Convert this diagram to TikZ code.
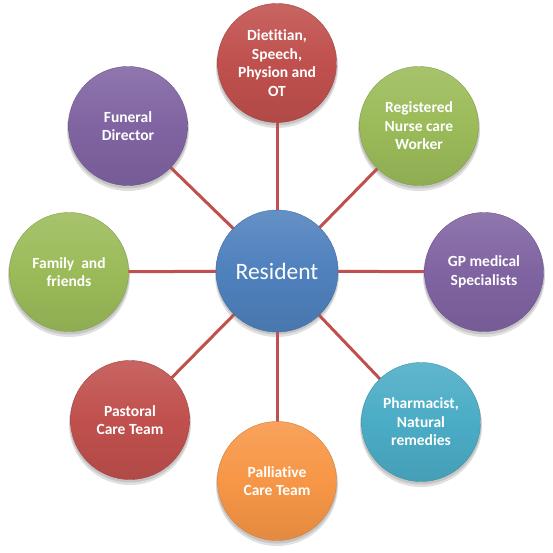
\documentclass[tikz,border=0pt]{standalone}
\usepackage{fontspec}
\setmainfont{Carlito}[Ligatures=NoCommon]
\definecolor{cred}{HTML}{C0504D}
\definecolor{cgreen}{HTML}{9BBB59}
\definecolor{cpurple}{HTML}{8064A2}
\definecolor{cteal}{HTML}{4BACC6}
\definecolor{corange}{HTML}{F79646}
\definecolor{cblue}{HTML}{4F81BD}
\tikzset{
  bubble/.style={circle, minimum size=119pt, inner sep=0pt, text=white,
    font=\bfseries\fontsize{15.5}{18.5}\selectfont, align=center,
    draw=#1!85!black, line width=0.4pt,
    top color=#1!88!white, bottom color=#1!92!black, middle color=#1},
  hub/.style={circle, minimum size=122pt, inner sep=0pt, text=white,
    font=\fontsize{23.5}{28}\selectfont, align=center,
    draw=#1!85!black, line width=0.4pt,
    top color=#1!88!white, bottom color=#1!92!black, middle color=#1},
  spoke/.style={draw=cred, line width=3pt},
  shadowdisc/.style={fill=black, opacity=0.12}
}
\begin{document}
\begin{tikzpicture}[x=1pt,y=-1pt]
\useasboundingbox (0,0) rectangle (553,552);
% shadows
\foreach \x/\y/\r in {277/63/60,419/126/60,484/272/60,421/422/60,277/481/60,130/420/60,69/272/60,128/126/60,277/271/61}{
  \fill[shadowdisc] (\x,\y+4) circle (\r+1);
  \fill[shadowdisc] (\x,\y+2) circle (\r+0.5);
}
\coordinate (c0) at (277,271);
\coordinate (c1) at (277,63);
\coordinate (c2) at (419,126);
\coordinate (c3) at (484,272);
\coordinate (c4) at (421,422);
\coordinate (c5) at (277,481);
\coordinate (c6) at (130,420);
\coordinate (c7) at (69,272);
\coordinate (c8) at (128,126);
\foreach \i in {1,...,8}{\draw[spoke] (c0) -- (c\i);}
\node[hub=cblue] (res) at (c0) {Resident};
\node[bubble=cred] (diet) at (c1) {Dietitian,\\Speech,\\Physion and\\OT};
\node[bubble=cgreen] (nurse) at (c2) {Registered\\Nurse care\\Worker};
\node[bubble=cpurple] (gp) at (c3) {GP medical\\Specialists};
\node[bubble=cteal] (pharm) at (c4) {Pharmacist,\\Natural\\remedies};
\node[bubble=corange] (pall) at (c5) {Palliative\\Care Team};
\node[bubble=cred] (past) at (c6) {Pastoral\\Care Team};
\node[bubble=cgreen] (fam) at (c7) {Family~ and\\friends};
\node[bubble=cpurple] (fun) at (c8) {Funeral\\Director};
\end{tikzpicture}
\end{document}
